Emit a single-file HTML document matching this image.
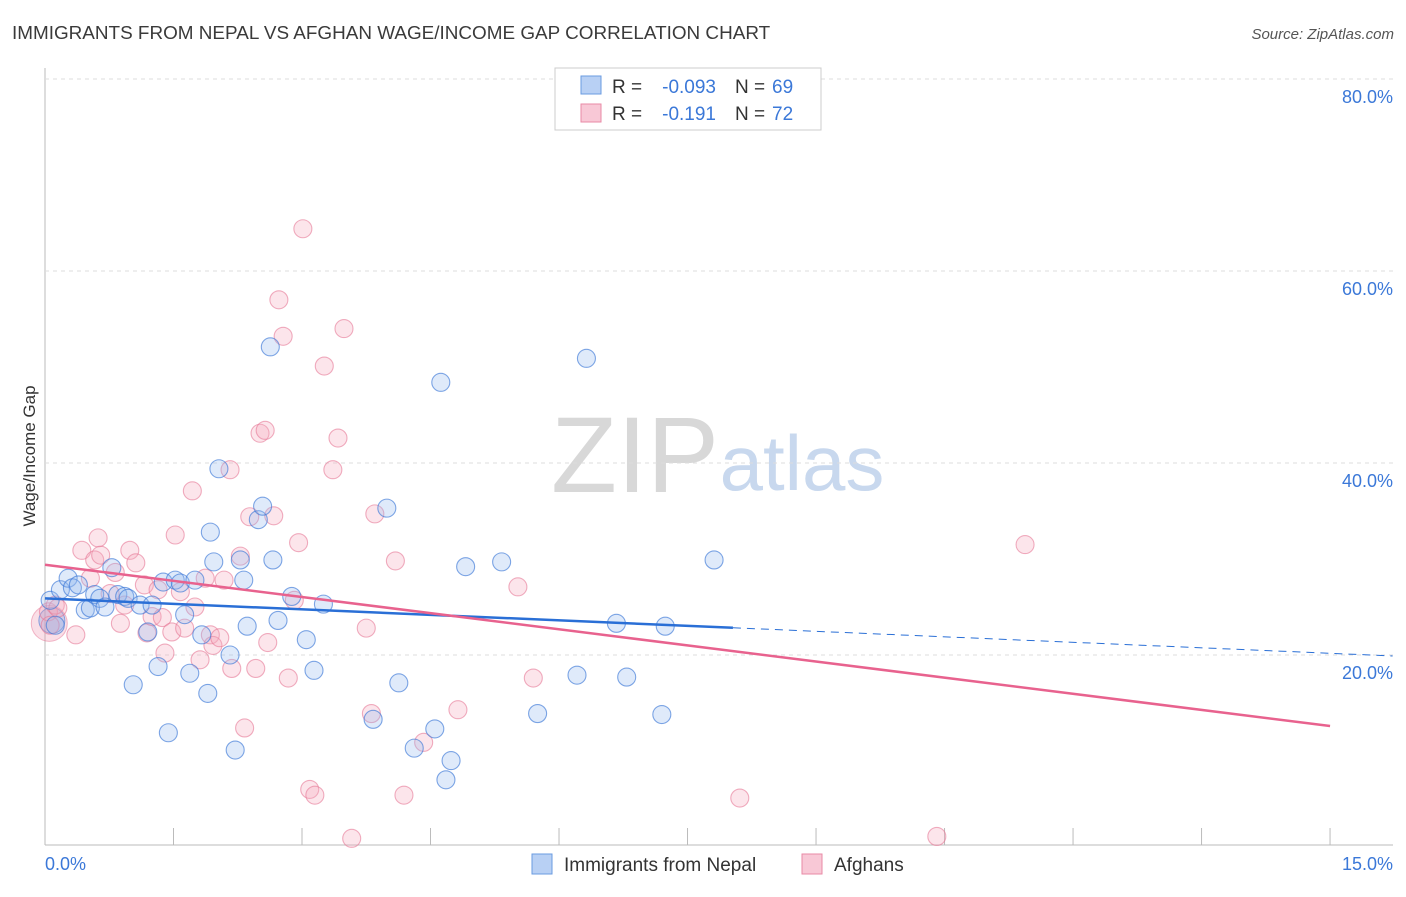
<!DOCTYPE html>
<html><head><meta charset="utf-8"><style>
body{margin:0;background:#fff;font-family:"Liberation Sans",sans-serif;}
svg text{font-family:"Liberation Sans",sans-serif;}
</style></head><body>
<svg id="chart" width="1406" height="892">
<text x="12" y="39" font-size="18.9" fill="#3a3a3a">IMMIGRANTS FROM NEPAL VS AFGHAN WAGE/INCOME GAP CORRELATION CHART</text>
<text x="1394" y="39" font-size="15" fill="#555" font-style="italic" text-anchor="end">Source: ZipAtlas.com</text>
<text x="35" y="456" font-size="17" fill="#333" text-anchor="middle" transform="rotate(-90 35 456)">Wage/Income Gap</text>
<g><text x="635" y="492" font-size="108" fill="#d8d8d8" text-anchor="middle" font-family="Liberation Serif">ZIP</text><text x="802" y="490" font-size="78" fill="#c8d8ee" text-anchor="middle">atlas</text></g>
<g id="grid"></g><g id="pts"></g><g id="lines"></g>
<g>
<rect x="555" y="68" width="266" height="62" fill="#fff" stroke="#ccc"/>
<rect x="581" y="76" width="20" height="18" fill="#b8d0f4" stroke="#6a9be0"/>
<rect x="581" y="104" width="20" height="18" fill="#f8c8d6" stroke="#e88aa6"/>
<text x="612" y="93" font-size="19" fill="#333">R =</text>
<text x="716" y="93" font-size="19" fill="#3b78d8" text-anchor="end">-0.093</text>
<text x="735" y="93" font-size="19" fill="#333">N =</text>
<text x="772" y="93" font-size="19" fill="#3b78d8">69</text>
<text x="612" y="120" font-size="19" fill="#333">R =</text>
<text x="716" y="120" font-size="19" fill="#3b78d8" text-anchor="end">-0.191</text>
<text x="735" y="120" font-size="19" fill="#333">N =</text>
<text x="772" y="120" font-size="19" fill="#3b78d8">72</text>
</g>
<g>
<rect x="532" y="854" width="20" height="20" fill="#b8d0f4" stroke="#6a9be0"/>
<text x="564" y="871" font-size="19" fill="#333">Immigrants from Nepal</text>
<rect x="802" y="854" width="20" height="20" fill="#f8c8d6" stroke="#e88aa6"/>
<text x="834" y="871" font-size="19" fill="#333">Afghans</text>
</g>
</svg>
<script>
const blueX=[0.06,0.12,0.18,0.27,0.32,0.39,0.47,0.53,0.58,0.64,0.70,0.78,0.85,0.93,0.97,1.03,1.11,1.20,1.25,1.32,1.38,1.44,1.52,1.58,1.63,1.69,1.75,1.83,1.90,1.93,1.97,2.03,2.16,2.22,2.28,2.32,2.36,2.49,2.54,2.63,2.66,2.72,2.88,3.05,3.14,3.25,3.83,3.99,4.13,4.31,4.55,4.62,4.68,4.74,4.91,5.33,5.75,6.21,6.32,6.67,6.79,7.20,7.24,7.81];
const blueY=[25.7,23.1,26.8,28.0,27.0,27.3,24.7,24.9,26.3,25.9,25.0,29.1,26.3,26.1,25.9,16.9,25.2,22.4,25.2,18.8,27.6,11.9,27.8,27.5,24.2,18.1,27.8,22.1,16.0,32.8,29.7,39.4,20.0,10.1,29.9,27.8,23.0,34.1,35.5,52.1,29.9,23.6,26.1,21.6,18.4,25.3,13.3,35.3,17.1,10.3,12.3,48.4,7.0,9.0,29.2,29.7,13.9,17.9,50.9,23.3,17.7,13.8,23.0,29.9];
const pinkX=[0.04,0.06,0.12,0.15,0.36,0.43,0.53,0.58,0.62,0.65,0.76,0.82,0.88,0.93,0.99,1.06,1.16,1.19,1.25,1.32,1.37,1.40,1.48,1.52,1.58,1.63,1.72,1.75,1.81,1.87,1.93,1.96,2.04,2.09,2.16,2.18,2.28,2.33,2.39,2.46,2.51,2.57,2.60,2.67,2.73,2.78,2.84,2.91,2.96,3.01,3.09,3.15,3.26,3.36,3.42,3.49,3.58,3.75,3.81,3.85,4.09,4.19,4.42,4.82,5.52,5.70,8.11,10.41,11.44];
const pinkY=[24.5,23.1,25.2,24.9,22.1,30.9,28.0,29.9,32.2,30.4,26.4,28.6,23.3,25.2,30.9,29.6,27.3,22.3,24.0,26.8,23.9,20.2,22.4,32.5,26.6,22.8,37.1,25.0,19.5,28.0,22.1,21.0,21.8,27.8,39.3,18.6,30.3,12.4,34.4,18.6,43.1,43.4,21.3,34.5,57.0,53.2,17.6,25.7,31.7,64.4,6.0,5.4,50.1,39.3,42.6,54.0,0.9,22.8,13.9,34.7,29.8,5.4,10.9,14.3,27.1,17.6,5.1,1.1,31.5];
const blueTrend=[25.9,19.9], blueSolidEnd=8.03;
const pinkTrend=[29.4,12.6];
const yTicks=[20,40,60,80];
const xTicks=[0,1.5,3,4.5,6,7.5,9,10.5,12,13.5,15];
const NS='http://www.w3.org/2000/svg';
const X=v=>45+v*85.67, Y=v=>847-v*9.6;
function mk(t,a,p){const e=document.createElementNS(NS,t);for(const k in a)e.setAttribute(k,a[k]);p.appendChild(e);return e;}
const g=document.getElementById('grid');
mk('line',{x1:45,y1:68,x2:45,y2:845,stroke:'#bbb'},g);
mk('line',{x1:45,y1:845,x2:1393,y2:845,stroke:'#bbb'},g);
yTicks.forEach(t=>{
 const l=mk('line',{x1:45,x2:1393,y1:Y(t),y2:Y(t),stroke:'#ddd','stroke-dasharray':'4,4'},g);
 
 
 const tx=mk('text',{x:1393,y:Y(t)+24,'font-size':18,fill:'#3b78d8','text-anchor':'end'},g);
 tx.textContent=t.toFixed(1)+'%';
 
 
});
xTicks.forEach(t=>{mk('line',{x1:X(t),x2:X(t),y1:828,y2:845,stroke:'#bbb'},g);});
const x0=mk('text',{x:45,y:870,'font-size':18,fill:'#3b78d8'},g);x0.textContent='0.0%';


const x1=mk('text',{x:1393,y:870,'font-size':18,fill:'#3b78d8','text-anchor':'end'},g);x1.textContent='15.0%';


const p=document.getElementById('pts');
const big1=mk('circle',{cx:X(0.05),cy:Y(23.3),r:18,fill:'rgba(240,150,175,0.3)',stroke:'rgba(230,120,150,0.5)'},p);


const big2=mk('circle',{cx:X(0.08),cy:Y(23.6),r:13,fill:'rgba(120,160,230,0.3)',stroke:'rgba(70,120,210,0.6)'},p);


pinkX.forEach((v,i)=>{const c=mk('circle',{cx:X(v),cy:Y(pinkY[i]),r:9,fill:'rgba(245,170,190,0.3)',stroke:'rgba(230,120,150,0.6)','stroke-width':1.1},p);
 
 });
blueX.forEach((v,i)=>{const c=mk('circle',{cx:X(v),cy:Y(blueY[i]),r:9,fill:'rgba(150,185,240,0.3)',stroke:'rgba(60,120,215,0.65)','stroke-width':1.1},p);
 
 });
const L=document.getElementById('lines');
const by=x=>blueTrend[0]+(blueTrend[1]-blueTrend[0])*(x/15.73);
const bl=mk('line',{x1:X(0),y1:Y(by(0)),x2:X(blueSolidEnd),y2:Y(by(blueSolidEnd)),stroke:'#2a6fd6','stroke-width':2.5},L);


const bd=mk('line',{x1:X(blueSolidEnd),y1:Y(by(blueSolidEnd)),x2:X(15.73),y2:Y(blueTrend[1]),stroke:'#2a6fd6','stroke-width':1,'stroke-dasharray':'8,6'},L);


const pl=mk('line',{x1:X(0),y1:Y(pinkTrend[0]),x2:X(15),y2:Y(pinkTrend[1]),stroke:'#e8628e','stroke-width':2.5},L);


</script>
</body></html>
